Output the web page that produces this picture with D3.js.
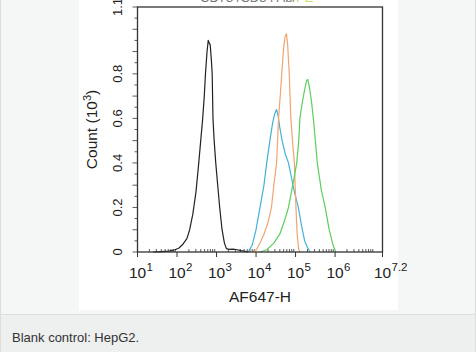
<!DOCTYPE html>
<html>
<head>
<meta charset="utf-8">
<script src="https://cdn.jsdelivr.net/npm/d3@7"></script>
<style>
  body { margin: 0; background: #f5f6f6; }
  svg { display: block; font-family: "Liberation Sans", Arial, sans-serif; }
</style>
</head>
<body>
<div id="chart"></div>
<script>
// histogram outlines, x as log10(AF647-H), y as count (10^3)
var blackLog   = [1.4, 1.6, 1.8, 1.95, 2.05, 2.15, 2.25, 2.32, 2.4, 2.48, 2.55, 2.6, 2.65, 2.69, 2.72, 2.76, 2.79, 2.81, 2.84, 2.87, 2.89, 2.91, 2.94, 2.98, 3.03, 3.08, 3.14, 3.2, 3.25, 3.32, 3.42, 3.52, 3.62, 3.72, 3.8];
var blackCount = [0, 0.002, 0.004, 0.01, 0.018, 0.035, 0.06, 0.1, 0.17, 0.27, 0.4, 0.5, 0.6, 0.7, 0.8, 0.9, 0.95, 0.94, 0.93, 0.86, 0.8, 0.6, 0.5, 0.4, 0.3, 0.2, 0.1, 0.04, 0.015, 0.012, 0.013, 0.01, 0.006, 0.003, 0];

var cyanLog   = [3.8, 3.9, 4.0, 4.1, 4.2, 4.27, 4.35, 4.42, 4.47, 4.52, 4.56, 4.6, 4.66, 4.74, 4.82, 4.9, 4.97, 5.07, 5.15, 5.23, 5.3, 5.37];
var cyanCount = [0, 0.03, 0.1, 0.2, 0.3, 0.4, 0.5, 0.58, 0.62, 0.64, 0.61, 0.56, 0.5, 0.44, 0.4, 0.33, 0.27, 0.2, 0.12, 0.05, 0.02, 0];

var orangeLog   = [3.9, 4.01, 4.1, 4.2, 4.3, 4.39, 4.45, 4.52, 4.57, 4.62, 4.65, 4.7, 4.74, 4.77, 4.8, 4.84, 4.88, 4.93, 4.97, 5.01, 5.04, 5.08, 5.12];
var orangeCount = [0, 0.01, 0.04, 0.08, 0.13, 0.2, 0.3, 0.4, 0.6, 0.72, 0.8, 0.92, 0.97, 0.98, 0.93, 0.8, 0.6, 0.48, 0.4, 0.2, 0.08, 0.01, 0];

var greenLog   = [4.1, 4.27, 4.45, 4.6, 4.72, 4.82, 4.95, 5.03, 5.08, 5.11, 5.16, 5.22, 5.28, 5.31, 5.35, 5.4, 5.45, 5.5, 5.55, 5.65, 5.75, 5.85, 5.95, 6.02];
var greenCount = [0, 0.01, 0.04, 0.08, 0.14, 0.2, 0.32, 0.4, 0.5, 0.6, 0.66, 0.72, 0.77, 0.775, 0.74, 0.68, 0.6, 0.5, 0.4, 0.28, 0.2, 0.1, 0.03, 0];

var seriesColors = ['#222222', '#45b0d8', '#f2a56f', '#5ccf5c'];
var xTickExps = ['1', '2', '3', '4', '5', '6', '7.2'];
var yTickLabels = [0, 0.2, 0.4, 0.6, 0.8, 1.1];
var xTitle = 'AF647-H';
var caption = 'Blank control: HepG2.';

var W = 476, H = 352;
var plotL = 137.5, plotR = 382.5, plotT = 7, plotB = 252;

var svg = d3.select('#chart').append('svg')
    .attr('width', W)
    .attr('height', H);

// page frame
svg.append('rect').attr('x', 0).attr('y', 0).attr('width', W).attr('height', 314).attr('fill', '#f5f6f6');
svg.append('rect').attr('x', 0).attr('y', 314).attr('width', W).attr('height', 38).attr('fill', '#eeefef');
svg.append('line').attr('x1', 0).attr('x2', W).attr('y1', 314.5).attr('y2', 314.5).attr('stroke', '#dcdddd');
svg.append('line').attr('x1', 0.5).attr('x2', 0.5).attr('y1', 0).attr('y2', H).attr('stroke', '#dcdddd');
svg.append('line').attr('x1', W - 0.5).attr('x2', W - 0.5).attr('y1', 0).attr('y2', H).attr('stroke', '#dcdddd');
svg.append('rect').attr('x', 79).attr('y', 0).attr('width', 319).attr('height', 310).attr('fill', '#ffffff');

svg.append('text')
    .attr('x', 12).attr('y', 342)
    .attr('font-size', 13).attr('fill', '#333')
    .text(caption);

// title, cut off at the top of the image
var ttl = svg.append('text').attr('x', 200).attr('y', 2).attr('font-size', 13).attr('fill', '#777');
ttl.append('tspan').text('CD73 /CD34 Ab/');
ttl.append('tspan').attr('fill', '#c8e060').text('PE');

var x = d3.scaleLog().domain([10, Math.pow(10, 7.2)]).range([plotL, plotR]);
var y = d3.scaleLinear().domain([0, 1.1]).range([plotB, plotT]);

// minor ticks on x (inside), major ticks outside
var minor = [];
for (var e = 1; e < 8; e++) {
    for (var m = 2; m < 10; m++) {
        var v = m * Math.pow(10, e);
        if (v < Math.pow(10, 7.2)) minor.push(v);
    }
}
svg.append('g').selectAll('line').data(minor).join('line')
    .attr('x1', function(d){ return x(d); }).attr('x2', function(d){ return x(d); })
    .attr('y1', plotB).attr('y2', plotB - 3)
    .attr('stroke', '#333').attr('stroke-width', 0.8);

var majors = xTickExps.map(function(s){ return Math.pow(10, +s); });
svg.append('g').selectAll('line').data(majors).join('line')
    .attr('x1', function(d){ return x(d); }).attr('x2', function(d){ return x(d); })
    .attr('y1', plotB).attr('y2', plotB + 5)
    .attr('stroke', '#333').attr('stroke-width', 1);

var xl = svg.append('g').selectAll('g').data(xTickExps).join('g')
    .attr('transform', function(d){ return 'translate(' + x(Math.pow(10, +d)) + ',278)'; });
xl.append('text')
    .attr('text-anchor', 'middle').attr('font-size', 15.5).attr('fill', '#222')
    .text('10');
xl.append('text')
    .attr('x', 9).attr('y', -7.5).attr('font-size', 11.5).attr('fill', '#222')
    .text(function(d){ return d; });

svg.append('text')
    .attr('x', (plotL + plotR) / 2).attr('y', 302)
    .attr('text-anchor', 'middle').attr('font-size', 15.5).attr('fill', '#222')
    .text(xTitle);

// y ticks
var yMinor = d3.range(0, 1.1001, 0.05);
svg.append('g').selectAll('line').data(yMinor).join('line')
    .attr('x1', plotL).attr('x2', function(d, i){ return i % 2 === 0 ? plotL - 5 : plotL - 3; })
    .attr('y1', function(d){ return y(d); }).attr('y2', function(d){ return y(d); })
    .attr('stroke', '#333').attr('stroke-width', 0.8);

svg.append('g').selectAll('text').data(yTickLabels).join('text')
    .attr('transform', function(d){ return 'translate(122,' + y(d) + ') rotate(-90)'; })
    .attr('text-anchor', 'middle').attr('font-size', 13).attr('fill', '#222')
    .text(function(d){ return d === 0 ? '0' : d3.format('.1f')(d); });

var yt = svg.append('text')
    .attr('transform', 'translate(97,' + ((plotT + plotB) / 2) + ') rotate(-90)')
    .attr('text-anchor', 'middle').attr('font-size', 15.5).attr('fill', '#222');
yt.append('tspan').text('Count (10');
yt.append('tspan').attr('font-size', 11).attr('dy', -6).text('3');
yt.append('tspan').attr('dy', 6).text(')');

// curves
var series = [
    {logs: blackLog, counts: blackCount},
    {logs: cyanLog, counts: cyanCount},
    {logs: orangeLog, counts: orangeCount},
    {logs: greenLog, counts: greenCount}
];
var line = d3.line()
    .x(function(d){ return x(Math.pow(10, d[0])); })
    .y(function(d){ return y(d[1]); });

svg.append('g').selectAll('path').data(series).join('path')
    .attr('d', function(s){ return line(d3.zip(s.logs, s.counts)); })
    .attr('fill', 'none')
    .attr('stroke', function(s, i){ return seriesColors[i]; })
    .attr('stroke-width', 1.2)
    .attr('stroke-linejoin', 'round');

// box
svg.append('rect')
    .attr('x', plotL).attr('y', plotT).attr('width', plotR - plotL).attr('height', plotB - plotT)
    .attr('fill', 'none').attr('stroke', '#333').attr('stroke-width', 1.3);
</script>
</body>
</html>
